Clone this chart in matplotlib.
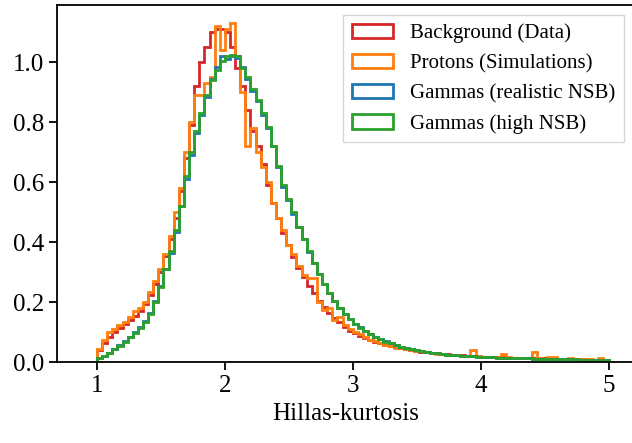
import numpy as np
import matplotlib
matplotlib.use("Agg")
import matplotlib.pyplot as plt

plt.rcParams["font.family"] = ["Liberation Serif", "DejaVu Serif"]
plt.rcParams["mathtext.fontset"] = "stix"
plt.rcParams["font.size"] = 18

# Histogram binning of Hillas kurtosis: 100 bins between 1 and 5
bin_edges = np.linspace(1.0, 5.0, 101)
bin_centers = 0.5 * (bin_edges[:-1] + bin_edges[1:])

background_data = [
    0.040, 0.062, 0.085, 0.100, 0.115, 0.128, 0.140, 0.155, 0.170, 0.195,
    0.225, 0.260, 0.300, 0.355, 0.410, 0.480, 0.570, 0.680, 0.790, 0.920,
    1.000, 1.050, 1.100, 1.110, 1.110, 1.100, 1.050, 0.980, 0.920, 0.840,
    0.770, 0.720, 0.660, 0.590, 0.530, 0.480, 0.430, 0.390, 0.350, 0.315,
    0.285, 0.255, 0.230, 0.205, 0.185, 0.165, 0.148, 0.133, 0.118, 0.105,
    0.096, 0.088, 0.080, 0.073, 0.067, 0.062, 0.057, 0.053, 0.049, 0.046,
    0.043, 0.040, 0.037, 0.035, 0.033, 0.031, 0.029, 0.027, 0.026, 0.024,
    0.023, 0.022, 0.021, 0.020, 0.019, 0.018, 0.018, 0.017, 0.016, 0.016,
    0.015, 0.015, 0.014, 0.014, 0.013, 0.013, 0.012, 0.012, 0.011, 0.011,
    0.010, 0.010, 0.010, 0.009, 0.009, 0.009, 0.008, 0.008, 0.008, 0.007,
]

protons_sim = [
    0.045, 0.075, 0.100, 0.110, 0.125, 0.135, 0.150, 0.170, 0.180, 0.200,
    0.235, 0.270, 0.310, 0.360, 0.420, 0.500, 0.580, 0.700, 0.800, 0.890,
    0.890, 0.930, 0.950, 1.120, 1.040, 1.110, 1.130, 1.020, 0.900, 0.720,
    0.780, 0.700, 0.650, 0.600, 0.530, 0.480, 0.440, 0.390, 0.360, 0.320,
    0.290, 0.280, 0.280, 0.200, 0.175, 0.180, 0.140, 0.150, 0.125, 0.110,
    0.100, 0.095, 0.085, 0.075, 0.070, 0.063, 0.056, 0.054, 0.048, 0.046,
    0.044, 0.040, 0.036, 0.036, 0.032, 0.031, 0.028, 0.028, 0.025, 0.023,
    0.023, 0.021, 0.021, 0.040, 0.021, 0.018, 0.017, 0.016, 0.016, 0.026,
    0.018, 0.014, 0.015, 0.014, 0.013, 0.032, 0.013, 0.011, 0.018, 0.017,
    0.011, 0.010, 0.012, 0.010, 0.009, 0.009, 0.010, 0.008, 0.012, 0.008,
]

gammas_realistic = [
    0.013, 0.021, 0.031, 0.044, 0.057, 0.070, 0.085, 0.100, 0.118, 0.138,
    0.165, 0.205, 0.255, 0.310, 0.365, 0.435, 0.520, 0.610, 0.690, 0.765,
    0.825, 0.885, 0.945, 0.985, 1.020, 1.010, 1.020, 1.015, 0.985, 0.945,
    0.905, 0.870, 0.825, 0.780, 0.720, 0.650, 0.585, 0.540, 0.495, 0.450,
    0.410, 0.368, 0.330, 0.294, 0.261, 0.230, 0.204, 0.181, 0.161, 0.143,
    0.128, 0.116, 0.104, 0.094, 0.085, 0.077, 0.069, 0.062, 0.056, 0.051,
    0.047, 0.043, 0.039, 0.036, 0.033, 0.031, 0.029, 0.027, 0.025, 0.024,
    0.022, 0.021, 0.020, 0.019, 0.018, 0.017, 0.016, 0.016, 0.015, 0.014,
    0.014, 0.013, 0.013, 0.012, 0.012, 0.011, 0.011, 0.011, 0.010, 0.010,
    0.010, 0.009, 0.009, 0.009, 0.008, 0.008, 0.008, 0.008, 0.007, 0.007,
]

gammas_high_nsb = [
    0.012, 0.020, 0.030, 0.042, 0.055, 0.068, 0.082, 0.097, 0.115, 0.135,
    0.160, 0.200, 0.250, 0.310, 0.370, 0.440, 0.520, 0.620, 0.700, 0.770,
    0.830, 0.890, 0.940, 0.975, 1.005, 1.020, 1.025, 1.020, 0.980, 0.950,
    0.910, 0.875, 0.830, 0.785, 0.720, 0.655, 0.590, 0.545, 0.500, 0.450,
    0.410, 0.370, 0.330, 0.295, 0.260, 0.230, 0.203, 0.180, 0.160, 0.143,
    0.128, 0.115, 0.104, 0.094, 0.085, 0.076, 0.068, 0.062, 0.056, 0.051,
    0.047, 0.043, 0.039, 0.036, 0.033, 0.031, 0.029, 0.027, 0.025, 0.024,
    0.022, 0.021, 0.020, 0.019, 0.018, 0.017, 0.016, 0.016, 0.015, 0.014,
    0.014, 0.013, 0.013, 0.012, 0.012, 0.011, 0.011, 0.011, 0.010, 0.010,
    0.010, 0.009, 0.009, 0.009, 0.008, 0.008, 0.008, 0.008, 0.007, 0.007,
]

series = [
    ("Background (Data)", background_data, "tab:red"),
    ("Protons (Simulations)", protons_sim, "tab:orange"),
    ("Gammas (realistic NSB)", gammas_realistic, "tab:blue"),
    ("Gammas (high NSB)", gammas_high_nsb, "tab:green"),
]

fig = plt.figure(figsize=(6.32, 4.43), dpi=100)
ax = fig.add_axes([0.0907, 0.1828, 0.9127, 0.8059])

# Pre-binned densities drawn as step histograms
for label, values, color in series:
    ax.hist(bin_centers, bins=bin_edges, weights=values, histtype="step",
            color=color, linewidth=2.0, label=label)

ax.set_xlim(0.69, 5.2)
ax.set_ylim(0.0, 1.19)
ax.set_xticks([1, 2, 3, 4, 5])
ax.set_yticks([0.0, 0.2, 0.4, 0.6, 0.8, 1.0])
ax.set_yticklabels(["0.0", "0.2", "0.4", "0.6", "0.8", "1.0"])
ax.set_xlabel("Hillas-kurtosis")

for side in ("left", "bottom", "top"):
    ax.spines[side].set_linewidth(1.3)
ax.spines["right"].set_visible(False)
ax.tick_params(direction="out", length=6, width=1.3)

leg = ax.legend(loc="upper right", fontsize=15, fancybox=False)
leg.get_frame().set_edgecolor("0.8")
leg.get_frame().set_linewidth(1.0)

fig.savefig("out.png", dpi=100)
